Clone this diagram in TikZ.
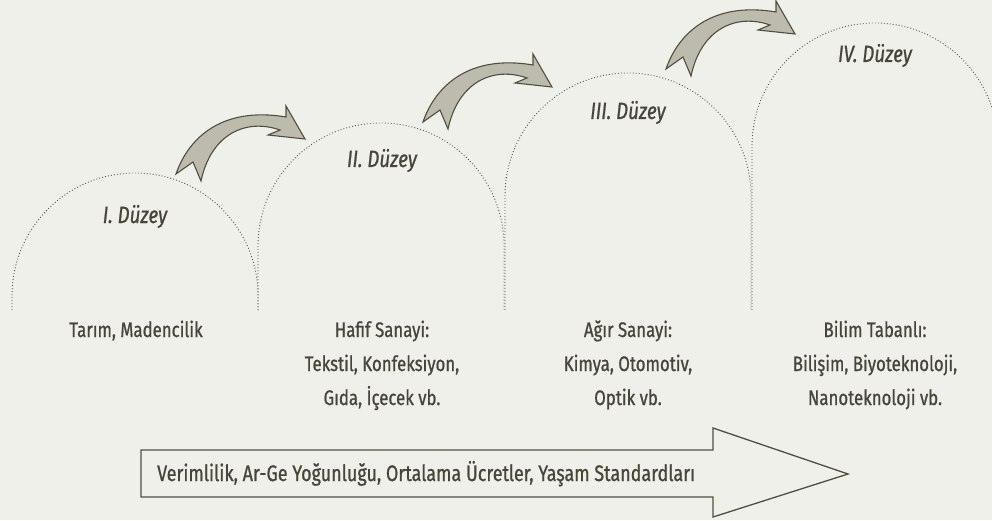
\documentclass[tikz,border=0pt]{standalone}
\usepackage{fontspec}
\setmainfont{Fira Sans}[FakeStretch=0.8, FakeBold=0.8]
\definecolor{bgcol}{HTML}{F0F0EA}
\definecolor{txtcol}{HTML}{45453A}
\definecolor{archcol}{HTML}{505046}
\definecolor{arrfill}{HTML}{BDBBAD}
\definecolor{arrdraw}{HTML}{4F4F3F}
\tikzset{
  archline/.style={archcol, line width=0.9pt, dash pattern=on 0.9pt off 2.1pt},
  lvl/.style={inner sep=0pt, anchor=base, text=txtcol, font=\fontsize{23.5}{26}\selectfont\itshape},
  lbl/.style={inner sep=0pt, anchor=base, text=txtcol, font=\fontsize{21}{24}\selectfont},
  trendlbl/.style={inner sep=0pt, anchor=base west, text=txtcol, font=\fontsize{22.4}{26}\selectfont},
  arrowshape/.style={fill=arrfill, draw=arrdraw, line width=1.1pt, line join=miter},
  bigarrow/.style={draw=arrdraw, line width=1.3pt, line join=miter},
  curvarrow/.pic={
    \path[arrowshape] (0,0) .. controls (12,35) and (45,68) .. (110,57)
      -- (110,68) -- (129,35) -- (92,39) -- (104,44)
      .. controls (70,56) and (35,40) .. (25,-7) -- (17,12) -- cycle;
  }
}
\begin{document}
\begin{tikzpicture}[x=1pt,y=1pt]
\useasboundingbox (0,0) rectangle (992,520);
\fill[bgcol] (0,0) rectangle (992,520);
\clip (0,0) rectangle (992,520);
% arches
\draw[archline] (12,210) -- (12,224) arc[start angle=180,end angle=0,radius=123pt] -- (258,210);
\draw[archline] (258,210) -- (258,274) arc[start angle=180,end angle=0,radius=123pt] -- (504,210);
\draw[archline] (505,210) -- (505,324) arc[start angle=180,end angle=0,radius=123pt] -- (751,210);
\draw[archline] (752,210) -- (752,374) arc[start angle=180,end angle=0,radius=123pt] -- (998,210);
% curved arrows
\pic at (176,346) {curvarrow};
\pic at (423,398) {curvarrow};
\pic at (666,451) {curvarrow};
% level labels
\node[lvl] (l1) at (135,297) {I. Düzey};
\node[lvl] (l2) at (382,353) {II. Düzey};
\node[lvl] (l3) at (628,401) {III. Düzey};
\node[lvl] (l4) at (875,458) {IV. Düzey};
% bottom texts
\node[lbl] (a1) at (136,183) {Tarım, Madencilik};
\node[lbl] (b1) at (382,183) {Hafif Sanayi:};
\node[lbl] (b2) at (382,149) {Tekstil, Konfeksiyon,};
\node[lbl] (b3) at (382,115) {Gıda, İçecek vb.};
\node[lbl] (c1) at (628,183) {Ağır Sanayi:};
\node[lbl] (c2) at (628,149) {Kimya, Otomotiv,};
\node[lbl] (c3) at (628,115) {Optik vb.};
\node[lbl] (d1) at (875,183) {Bilim Tabanlı:};
\node[lbl] (d2) at (875,149) {Bilişim, Biyoteknoloji,};
\node[lbl] (d3) at (875,115) {Nanoteknoloji vb.};
% big arrow
\draw[bigarrow] (141,70) -- (713,70) -- (713,92) -- (848,46) -- (713,3) -- (713,23) -- (141,23) -- cycle;
\node[trendlbl] (trend) at (157,39) {Verimlilik, Ar-Ge Yoğunluğu, Ortalama Ücretler, Yaşam Standardları};
\end{tikzpicture}
\end{document}
